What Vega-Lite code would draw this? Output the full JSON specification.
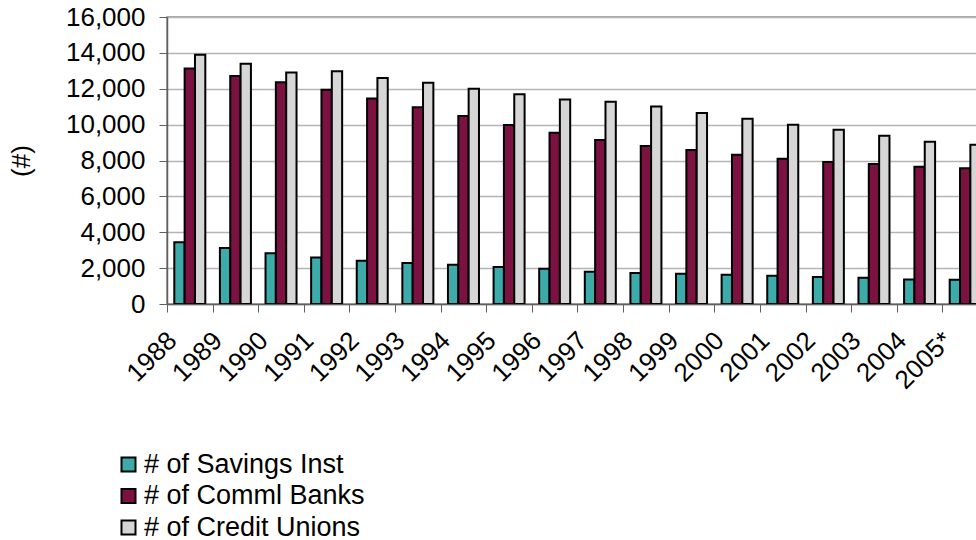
{
  "$schema": "https://vega.github.io/schema/vega-lite/v6.json",
  "width": 810,
  "height": 287,
  "autosize": {"type": "none"},
  "padding": {"left": 167, "top": 17, "right": 0, "bottom": 236},
  "background": "white",
  "config": {
    "font": "Liberation Sans",
    "view": {"stroke": "#8a8a8a", "strokeWidth": 1.5}
  },
  "data": {
    "values": [
      {"year": "1988", "type": "# of Savings Inst", "count": 3440},
      {"year": "1988", "type": "# of Comml Banks", "count": 13130},
      {"year": "1988", "type": "# of Credit Unions", "count": 13900},
      {"year": "1989", "type": "# of Savings Inst", "count": 3115},
      {"year": "1989", "type": "# of Comml Banks", "count": 12715},
      {"year": "1989", "type": "# of Credit Unions", "count": 13400},
      {"year": "1990", "type": "# of Savings Inst", "count": 2835},
      {"year": "1990", "type": "# of Comml Banks", "count": 12365},
      {"year": "1990", "type": "# of Credit Unions", "count": 12905},
      {"year": "1991", "type": "# of Savings Inst", "count": 2590},
      {"year": "1991", "type": "# of Comml Banks", "count": 11940},
      {"year": "1991", "type": "# of Credit Unions", "count": 12980},
      {"year": "1992", "type": "# of Savings Inst", "count": 2410},
      {"year": "1992", "type": "# of Comml Banks", "count": 11460},
      {"year": "1992", "type": "# of Credit Unions", "count": 12605},
      {"year": "1993", "type": "# of Savings Inst", "count": 2280},
      {"year": "1993", "type": "# of Comml Banks", "count": 10975},
      {"year": "1993", "type": "# of Credit Unions", "count": 12330},
      {"year": "1994", "type": "# of Savings Inst", "count": 2185},
      {"year": "1994", "type": "# of Comml Banks", "count": 10475},
      {"year": "1994", "type": "# of Credit Unions", "count": 11995},
      {"year": "1995", "type": "# of Savings Inst", "count": 2060},
      {"year": "1995", "type": "# of Comml Banks", "count": 9975},
      {"year": "1995", "type": "# of Credit Unions", "count": 11700},
      {"year": "1996", "type": "# of Savings Inst", "count": 1965},
      {"year": "1996", "type": "# of Comml Banks", "count": 9545},
      {"year": "1996", "type": "# of Credit Unions", "count": 11405},
      {"year": "1997", "type": "# of Savings Inst", "count": 1795},
      {"year": "1997", "type": "# of Comml Banks", "count": 9140},
      {"year": "1997", "type": "# of Credit Unions", "count": 11270},
      {"year": "1998", "type": "# of Savings Inst", "count": 1725},
      {"year": "1998", "type": "# of Comml Banks", "count": 8805},
      {"year": "1998", "type": "# of Credit Unions", "count": 11015},
      {"year": "1999", "type": "# of Savings Inst", "count": 1685},
      {"year": "1999", "type": "# of Comml Banks", "count": 8585},
      {"year": "1999", "type": "# of Credit Unions", "count": 10645},
      {"year": "2000", "type": "# of Savings Inst", "count": 1630},
      {"year": "2000", "type": "# of Comml Banks", "count": 8325},
      {"year": "2000", "type": "# of Credit Unions", "count": 10325},
      {"year": "2001", "type": "# of Savings Inst", "count": 1575},
      {"year": "2001", "type": "# of Comml Banks", "count": 8100},
      {"year": "2001", "type": "# of Credit Unions", "count": 9990},
      {"year": "2002", "type": "# of Savings Inst", "count": 1500},
      {"year": "2002", "type": "# of Comml Banks", "count": 7915},
      {"year": "2002", "type": "# of Credit Unions", "count": 9715},
      {"year": "2003", "type": "# of Savings Inst", "count": 1465},
      {"year": "2003", "type": "# of Comml Banks", "count": 7805},
      {"year": "2003", "type": "# of Credit Unions", "count": 9380},
      {"year": "2004", "type": "# of Savings Inst", "count": 1370},
      {"year": "2004", "type": "# of Comml Banks", "count": 7655},
      {"year": "2004", "type": "# of Credit Unions", "count": 9045},
      {"year": "2005*", "type": "# of Savings Inst", "count": 1350},
      {"year": "2005*", "type": "# of Comml Banks", "count": 7565},
      {"year": "2005*", "type": "# of Credit Unions", "count": 8880}
    ]
  },
  "mark": {"type": "bar", "stroke": "black", "strokeWidth": 2, "clip": true},
  "encoding": {
    "x": {
      "field": "year",
      "type": "nominal",
      "sort": null,
      "scale": {"range": [0, 821], "paddingInner": 0.32, "paddingOuter": 0.16},
      "axis": {
        "title": null,
        "bandPosition": 0,
        "tickOffset": -7.3,
        "domainColor": "#606060",
        "domainWidth": 1.5,
        "tickColor": "#606060",
        "tickSize": 8,
        "labelAngle": -45,
        "labelFont": "Liberation Sans",
        "labelFontSize": 26,
        "labelColor": "black",
        "labelPadding": 15,
        "labelOffset": -19.7
      }
    },
    "xOffset": {
      "field": "type",
      "sort": ["# of Savings Inst", "# of Comml Banks", "# of Credit Unions"]
    },
    "y": {
      "field": "count",
      "type": "quantitative",
      "scale": {"domain": [0, 16000]},
      "axis": {
        "title": "(#)",
        "titleFont": "Liberation Sans",
        "titleFontSize": 26,
        "titleFontWeight": "normal",
        "titleColor": "black",
        "titlePadding": 31,
        "values": [0, 2000, 4000, 6000, 8000, 10000, 12000, 14000, 16000],
        "format": ",.0f",
        "labelFont": "Liberation Sans",
        "labelFontSize": 26,
        "labelColor": "black",
        "labelPadding": 14,
        "tickSize": 8,
        "tickColor": "#606060",
        "domainColor": "#606060",
        "domainWidth": 1.5,
        "grid": true,
        "gridColor": "#b4b4b4",
        "gridWidth": 1.5
      }
    },
    "color": {
      "field": "type",
      "sort": ["# of Savings Inst", "# of Comml Banks", "# of Credit Unions"],
      "scale": {
        "domain": ["# of Savings Inst", "# of Comml Banks", "# of Credit Unions"],
        "range": ["#3eabab", "#7c1242", "#d6d6d6"]
      },
      "legend": {
        "title": null,
        "orient": "none",
        "legendX": -52,
        "legendY": 434,
        "direction": "vertical",
        "padding": 0,
        "symbolType": "square",
        "symbolSize": 196,
        "symbolStrokeColor": "black",
        "symbolStrokeWidth": 2,
        "symbolOpacity": 1,
        "labelFont": "Liberation Sans",
        "labelFontSize": 27,
        "labelColor": "black",
        "labelOffset": 2,
        "rowPadding": 3.5,
        "labelLimit": 400
      }
    }
  }
}
